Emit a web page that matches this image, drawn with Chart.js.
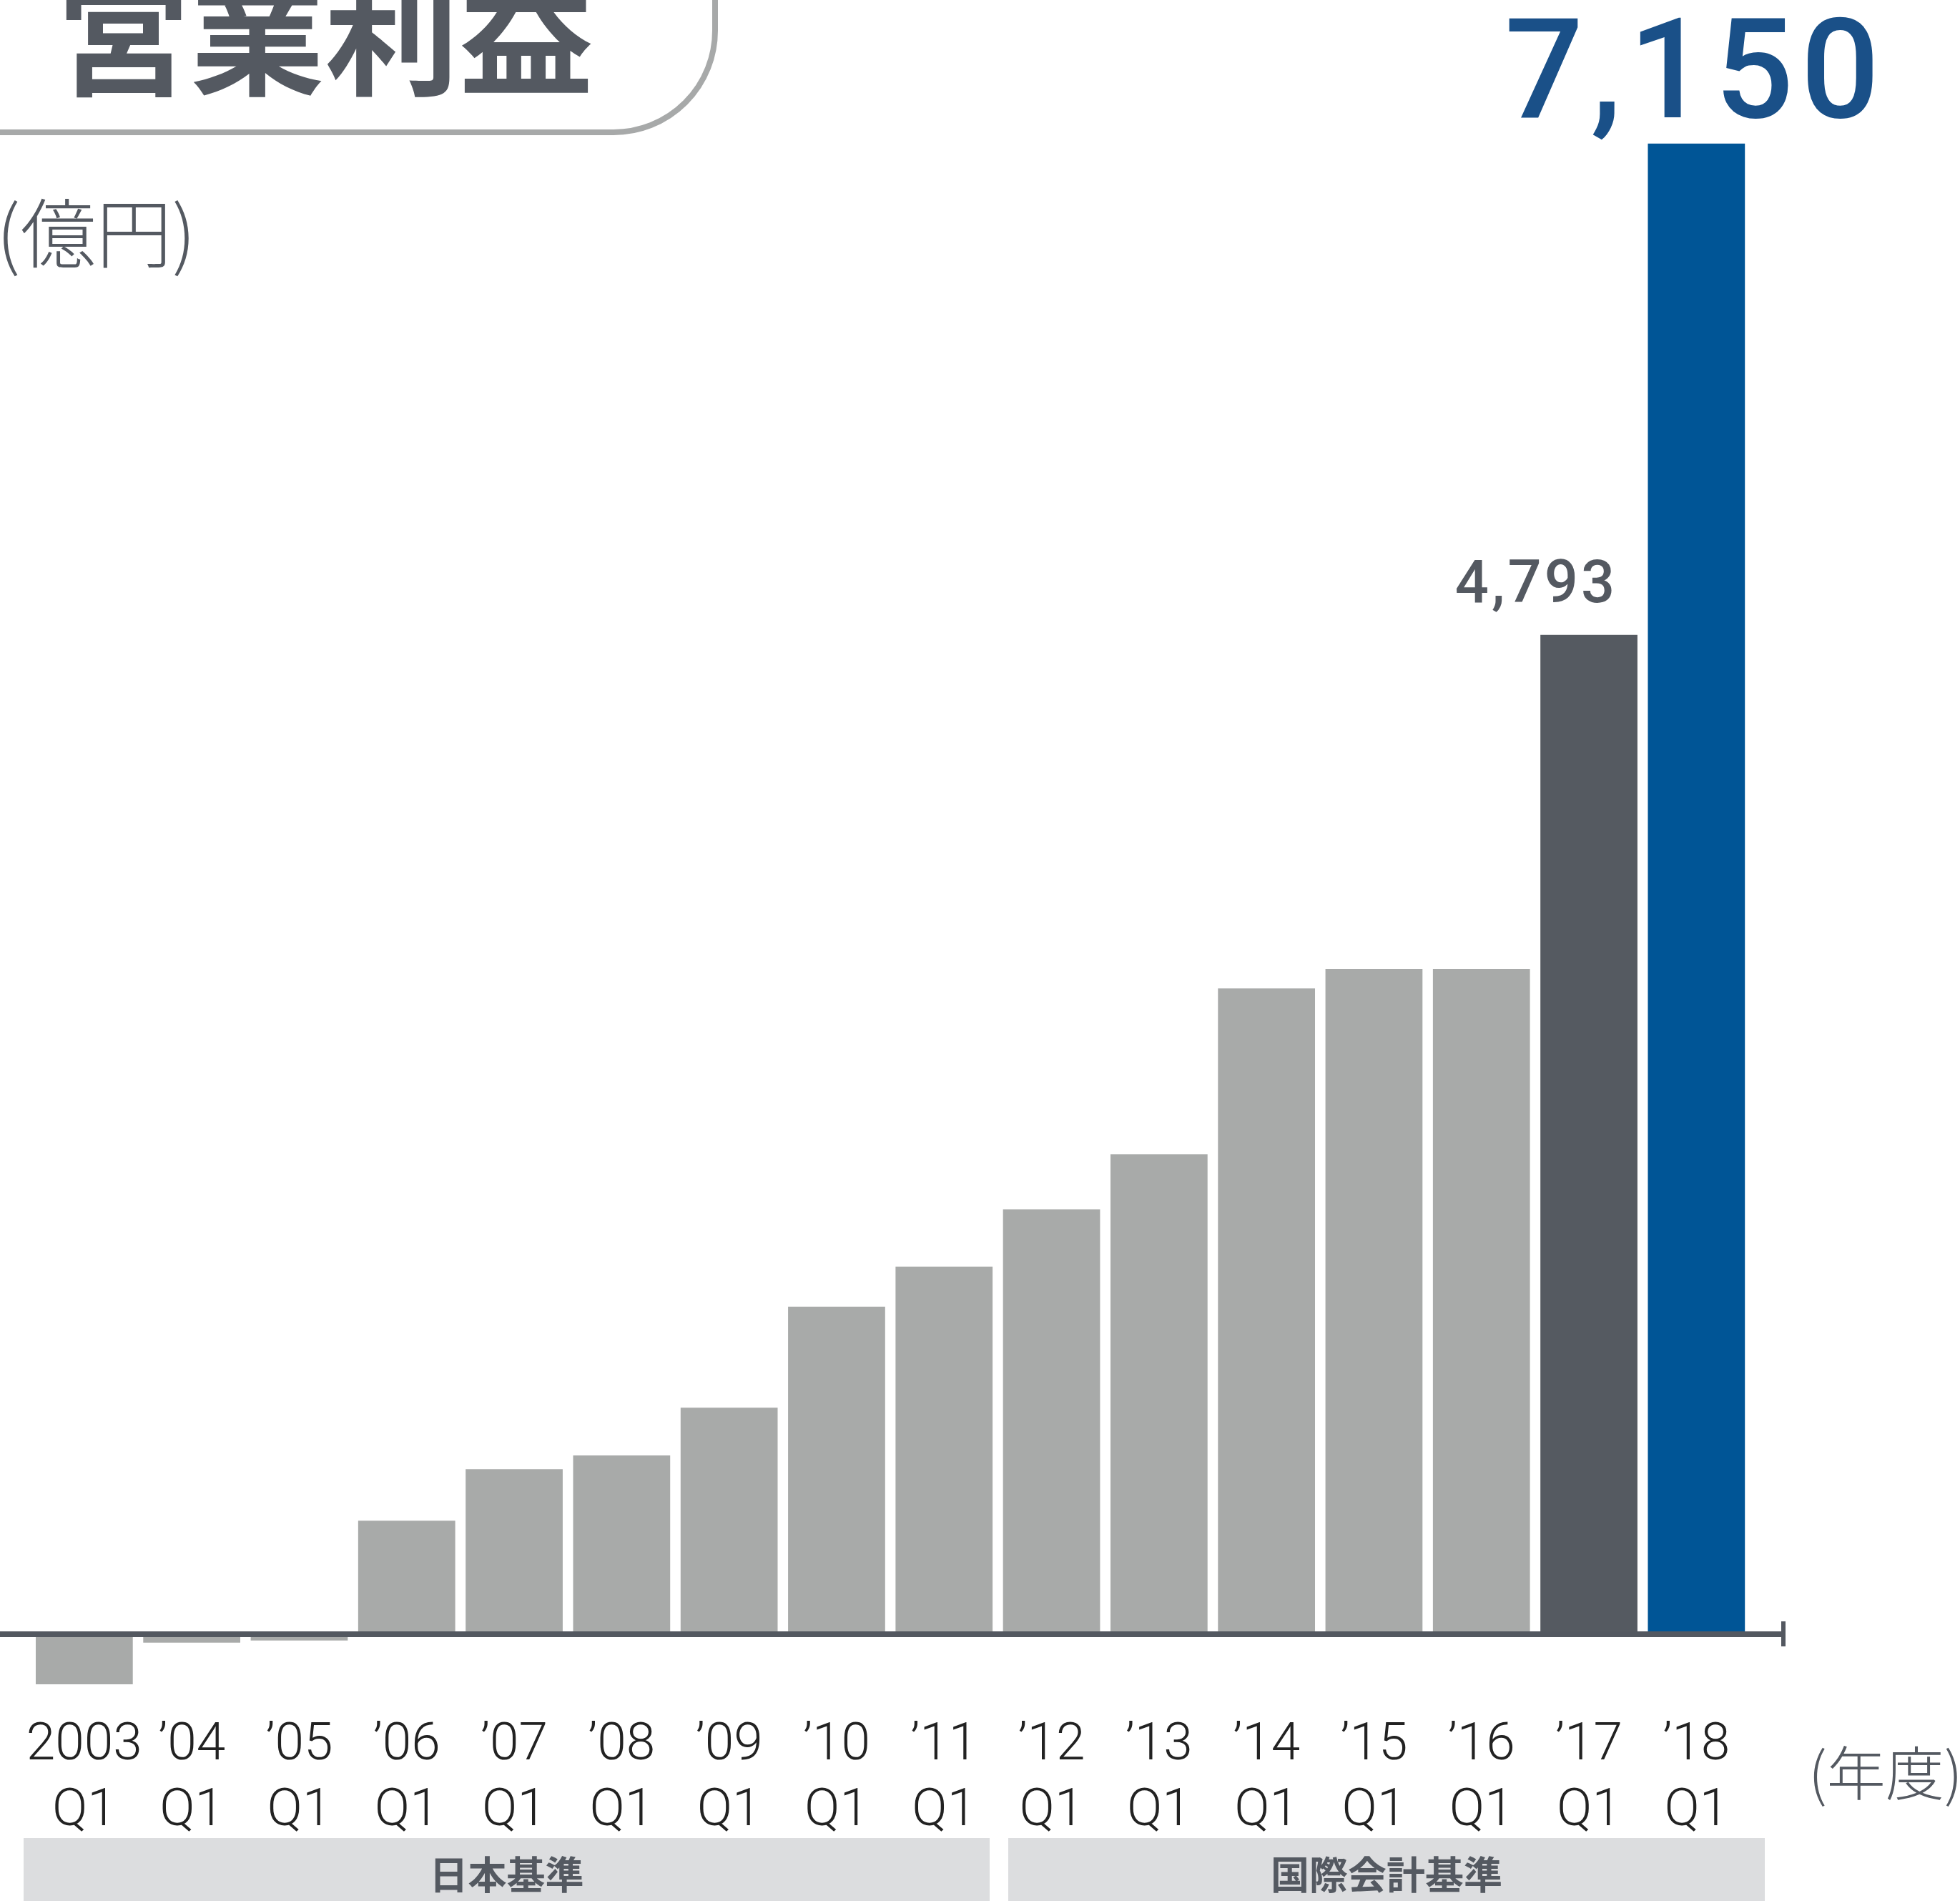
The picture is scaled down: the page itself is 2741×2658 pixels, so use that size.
<!DOCTYPE html>
<html lang="ja">
<head>
  <meta charset="UTF-8" />
  <title>営業利益</title>
  <!-- Chart.js -->
  <script src="https://cdn.jsdelivr.net/npm/chart.js@4.4.1/dist/chart.umd.min.js"></script>
  <style>
    html, body {
      margin: 0;
      padding: 0;
      background: #fff;
    }

    body {
      position: relative;
      width: 2741px;
      height: 2658px;
      overflow: hidden;
      font-family: 'Noto Sans CJK JP', sans-serif;
      color: #545961;
    }

    /* Title tab, cut off at the top-left */
    .title-box {
      position: absolute;
      left: -20px;
      top: -300px;
      width: 1024px;
      height: 489px;
      box-sizing: border-box;
      border: 8px solid #a7a9a9;
      border-radius: 0 146px 146px 0;
    }

    .title {
      position: absolute;
      left: 78px;
      top: -58px;
      font-size: 188px;
      line-height: 1;
      font-weight: 700;
      white-space: nowrap;
    }

    .unit {
      position: absolute;
      left: -5px;
      top: 267px;
      font-size: 106px;
      line-height: 1;
      font-weight: 300;
      white-space: nowrap;
    }

    .year-unit {
      position: absolute;
      left: 2529px;
      top: 2434px;
      font-size: 82px;
      line-height: 1;
      font-weight: 300;
      white-space: nowrap;
    }

    /* Accounting standard bands under the axis */
    .band {
      position: absolute;
      top: 2570px;
      height: 120px;
      background: #dcdddf;
    }

    .band span {
      position: absolute;
      left: 0;
      right: 0;
      top: 22px;
      text-align: center;
      font-size: 54px;
      line-height: 1;
      font-weight: 700;
    }

    #chart {
      position: absolute;
      left: 0;
      top: 0;
    }
  </style>
</head>
<body>
  <div class="title-box"></div>
  <div class="title">営業利益</div>
  <div class="unit">(億円)</div>
  <div class="year-unit">(年度)</div>
  <div class="band" style="left:33px; width:1351px;"><span>日本基準</span></div>
  <div class="band" style="left:1410px; width:1058px;"><span>国際会計基準</span></div>

  <canvas id="chart" width="2741" height="2658"></canvas>

  <script>
    // Fiscal years (first quarter) and operating income, 億円
    const years = ['2003', '’04', '’05', '’06', '’07', '’08', '’09', '’10',
                   '’11', '’12', '’13', '’14', '’15', '’16', '’17', '’18'];
    const quarter = 'Q1';
    const operatingIncome = [-240, -40, -30, 545, 792, 858, 1087, 1571,
                             1763, 2038, 2302, 3098, 3190, 3190, 4793, 7150];
    const labeledYears = ['’17', '’18'];

    // Bar colours: last year highlighted in blue, previous year dark grey
    function barColor(ctx) {
      const last = years.length - 1;
      if (ctx.dataIndex === last) return '#005596';
      if (ctx.dataIndex === last - 1) return '#555a61';
      return '#a8aaa9';
    }

    // Value label styles for the highlighted bars
    const labelStyles = {
      '’17': { font: '500 83px Roboto, "Liberation Sans", sans-serif', color: '#545961', align: 'right', dx: 40, gap: 46, spacing: '4px' },
      '’18': { font: '500 194px Roboto, "Liberation Sans", sans-serif', color: '#1a5088', align: 'center', dx: -1, gap: 37, spacing: '10px' }
    };

    // Thick zero line with an end tick
    const baselinePlugin = {
      id: 'baseline',
      afterDatasetsDraw(chart) {
        const ctx = chart.ctx;
        const y = chart.scales.y.getPixelForValue(0);
        ctx.save();
        ctx.strokeStyle = '#535860';
        ctx.lineWidth = 8;
        ctx.beginPath();
        ctx.moveTo(0, y);
        ctx.lineTo(2497, y);
        ctx.stroke();
        ctx.lineWidth = 6;
        ctx.beginPath();
        ctx.moveTo(2494, y - 18);
        ctx.lineTo(2494, y + 17);
        ctx.stroke();
        ctx.restore();
      }
    };

    const valueLabelPlugin = {
      id: 'valueLabels',
      afterDatasetsDraw(chart) {
        const ctx = chart.ctx;
        const meta = chart.getDatasetMeta(0);
        meta.data.forEach((bar, i) => {
          if (!labeledYears.includes(years[i])) return;
          const s = labelStyles[years[i]];
          ctx.save();
          ctx.font = s.font;
          ctx.fillStyle = s.color;
          ctx.textAlign = s.align;
          ctx.textBaseline = 'alphabetic';
          ctx.letterSpacing = s.spacing;
          ctx.fillText(operatingIncome[i].toLocaleString('en-US'), bar.x + s.dx, bar.y - s.gap);
          ctx.restore();
        });
      }
    };

    new Chart(document.getElementById('chart'), {
      type: 'bar',
      data: {
        labels: years.map(y => [y, quarter]),
        datasets: [{
          data: operatingIncome,
          backgroundColor: barColor,
          borderWidth: 0,
          categoryPercentage: 1,
          barPercentage: 0.903
        }]
      },
      options: {
        responsive: false,
        animation: false,
        devicePixelRatio: 1,
        layout: {
          padding: { left: 42.7, right: 293.5, top: 98.75, bottom: 0 }
        },
        plugins: {
          legend: { display: false },
          tooltip: { enabled: false },
          title: { display: false }
        },
        scales: {
          x: {
            grid: { display: false, drawTicks: false },
            border: { display: false },
            ticks: {
              color: '#222',
              autoSkip: false,
              maxRotation: 0,
              padding: 23.5,
              font: { family: 'Roboto, "Liberation Sans", sans-serif', size: 73, weight: '300', lineHeight: '92px' }
            },
            afterFit(scale) {
              scale.height = 285.55;
            }
          },
          y: {
            display: false,
            min: -300,
            max: 7500
          }
        }
      },
      plugins: [baselinePlugin, valueLabelPlugin]
    });
  </script>
</body>
</html>
